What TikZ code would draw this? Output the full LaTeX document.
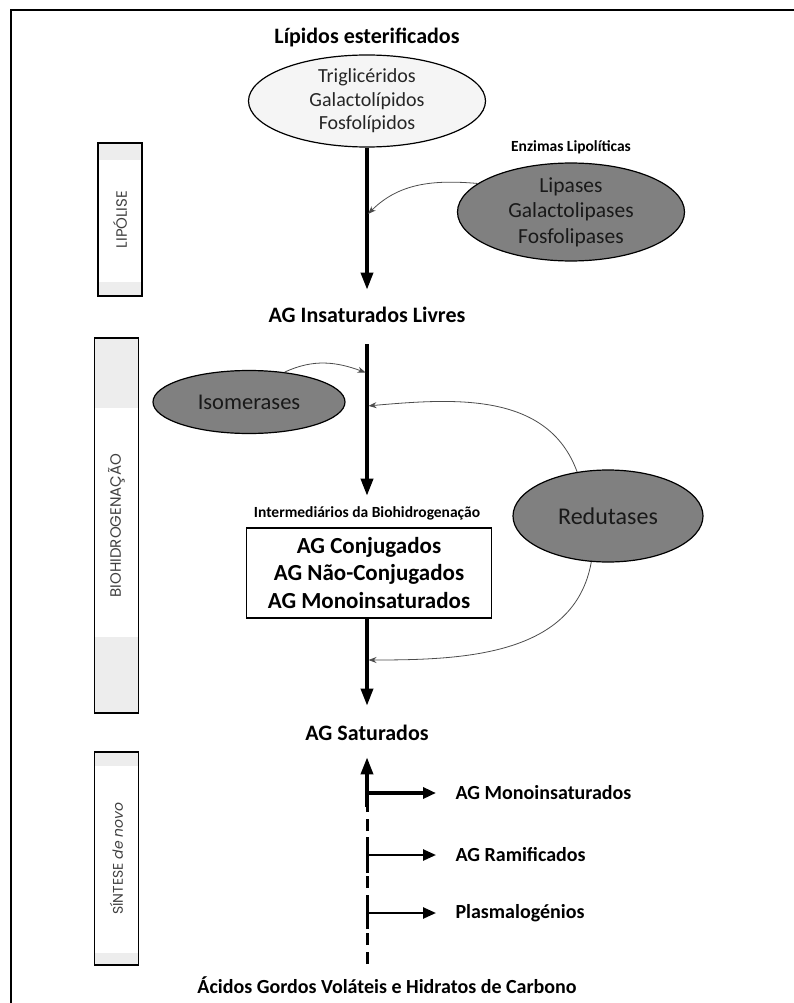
\documentclass[tikz,border=0pt]{standalone}
\usepackage{fontspec}
\setmainfont{Carlito}
\newfontfamily\gothic[Kerning=Off]{Poppins}
\usepackage{tikz}
\usetikzlibrary{arrows.meta,shapes.geometric,positioning}

\definecolor{enzgray}{HTML}{808080}
\definecolor{bandgray}{HTML}{EDEDED}

\begin{document}
\begin{tikzpicture}[x=1pt, y=-1pt,
  heading/.style={font=\bfseries\fontsize{22}{26}\selectfont},
  small/.style={font=\bfseries\fontsize{15.5}{18}\selectfont},
  product/.style={anchor=west, font=\bfseries\fontsize{20}{24}\selectfont},
  lipid/.style={ellipse, draw, line width=1.2pt, fill=gray!8, align=center, inner sep=0pt, text=black!85},
  enzyme/.style={ellipse, draw, line width=1.2pt, fill=enzgray, align=center, inner sep=0pt, text=black!90},
  phase/.style 2 args={draw, line width=1.3pt, minimum width=44pt, inner sep=0pt,
    path picture={\fill[bandgray] (path picture bounding box.north west) rectangle ([yshift=-#1]path picture bounding box.north east);
      \fill[bandgray] (path picture bounding box.south west) rectangle ([yshift=#2]path picture bounding box.south east);}},
  phaselabel/.style={rotate=90, text=black!75, font=\gothic\fontsize{15}{18}\selectfont},
  flow/.style={line width=3.5pt, -{Triangle[length=17pt,width=12pt]}},
  branch/.style={line width=2.5pt, -{Triangle[length=13pt,width=11pt]}},
  enzarrow/.style={draw=black!70, line width=0.8pt, shorten >=1.5pt, -{Stealth[length=8pt,width=6pt]}}]
\useasboundingbox (0,0) rectangle (794,1003);
\draw[line width=2pt] (794,10) -- (11,10) -- (11,1003);

% phases
\node[phase={17}{14}, minimum height=153pt] (Plip) at (120,219.5) {};
\node[phaselabel] at (Plip) {LIPÓLISE};
\node[phase={70}{76}, minimum height=375pt] (Pbio) at (116.5,525.5) {};
\node[phaselabel] at (Pbio) {BIOHIDROGENAÇÃO};
\node[phase={14}{12}, minimum height=213pt] (Psin) at (116.5,858.5) {};
\node[phaselabel, font=\gothic\fontsize{14}{17}\selectfont] at (Psin) {SÍNTESE \textit{de novo}};

% lipolise
\node[heading] (LE) at (367,37) {Lípidos esterificados};
\node[lipid, minimum width=237pt, minimum height=92pt, font=\fontsize{20}{23.5}\selectfont] (Est) at (367,101) {Triglicéridos\\Galactolípidos\\Fosfolípidos};
\node[small] (EnzL) at (571,147) {Enzimas Lipolíticas};
\node[enzyme, minimum width=227pt, minimum height=97pt, font=\fontsize{21.5}{25.5}\selectfont] (Lpase) at (571,212) {Lipases\\Galactolipases\\Fosfolipases};
\node[heading] (Livres) at (367,315) {AG Insaturados Livres};

% biohidrogenacao
\node[enzyme, minimum width=192pt, minimum height=63pt, font=\fontsize{22.5}{26}\selectfont] (Iso) at (249,402) {Isomerases};
\node[enzyme, minimum width=190pt, minimum height=92pt, font=\fontsize{24}{28}\selectfont] (Red) at (608,516) {Redutases};
\node[small] (Inter) at (367,513) {Intermediários da Biohidrogenação};
\node[draw, line width=1.5pt, minimum width=245pt, minimum height=90pt, align=center, font=\bfseries\fontsize{23}{27.5}\selectfont] (Int) at (369,573) {AG Conjugados\\AG Não-Conjugados\\AG Monoinsaturados};
\node[heading] (Sat) at (367,733) {AG Saturados};

% sintese de novo
\node[product] (Mono) at (452,793) {AG Monoinsaturados};
\node[product] (Ram) at (452,855) {AG Ramificados};
\node[product] (Plas) at (452,913) {Plasmalogénios};
\node[font=\bfseries\fontsize{20}{24}\selectfont] (Vol) at (387,985) {Ácidos Gordos Voláteis e Hidratos de Carbono};

\coordinate (m1) at (367,215);
\coordinate (m2) at (367,373);
\coordinate (m3) at (367,406);
\coordinate (m4) at (367,660);
\coordinate (b1) at (367,793);
\coordinate (b2) at (367,855);
\coordinate (b3) at (367,913);
\coordinate (s0) at (367,807);

\draw[flow, shorten >=14pt] (Est) -- (Livres);
\draw[flow, shorten <=18pt, shorten >=7pt] (Livres) -- (Inter);
\draw[flow, shorten >=16pt] (Int.south -| Sat) -- (Sat);
\draw[flow, shorten >=13pt] (s0) -- (Sat);
\draw[line width=3pt, dash pattern=on 12pt off 7pt, shorten <=9pt] (s0 |- Vol.north) -- (s0);
\draw[line width=3pt] ([yshift=-18pt]b2) -- ([yshift=18pt]b2);
\draw[line width=3pt] ([yshift=-16pt]b3) -- ([yshift=14pt]b3);
\draw[branch, line width=3.5pt, shorten >=16pt] (b1) -- (Mono);
\draw[branch, shorten >=16pt] (b2) -- (Ram);
\draw[branch, shorten >=16pt] (b3) -- (Plas);

\draw[enzarrow] (Lpase.163) to[out=175, in=45] (m1);
\draw[enzarrow] (Iso.40) to[out=25, in=160] (m2);
\draw[enzarrow] (Red.125) to[out=110, in=5] (m3);
\draw[enzarrow] (Red.250) to[out=260, in=0] (m4);
\end{tikzpicture}
\end{document}
